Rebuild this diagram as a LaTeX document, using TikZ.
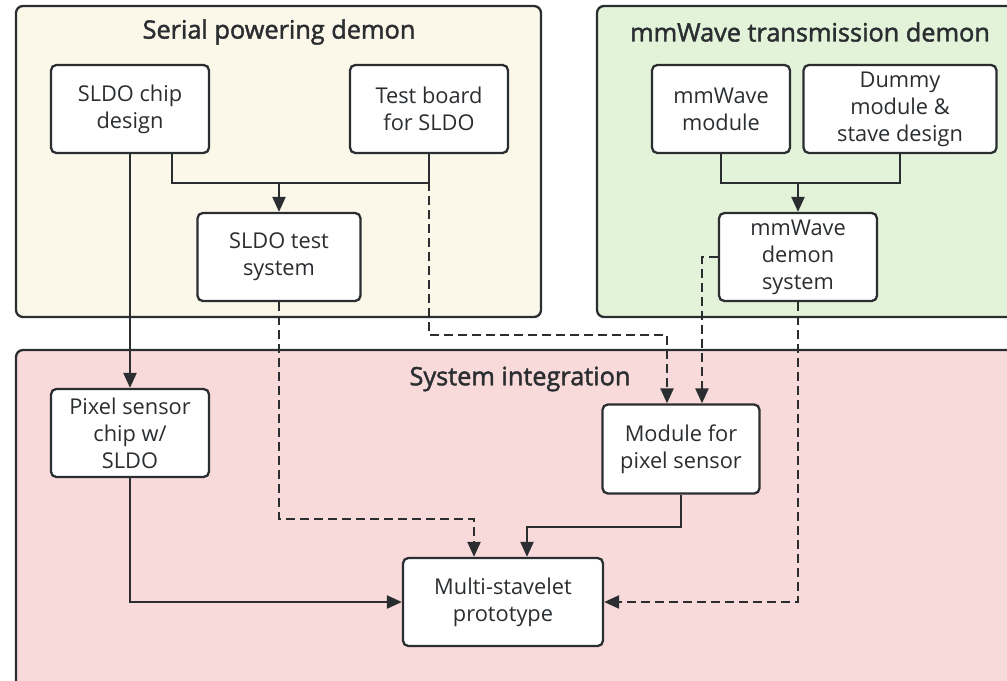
\documentclass[tikz,border=0pt]{standalone}
\usepackage{fontspec}
\setmainfont{Open Sans}
\newfontfamily\titlefont[FakeBold=1.8]{Open Sans}
\usetikzlibrary{positioning,arrows.meta,calc}
\definecolor{linec}{HTML}{2B2E31}
\definecolor{serialbg}{HTML}{FBF7E9}
\definecolor{wavebg}{HTML}{E3F3DA}
\definecolor{integbg}{HTML}{F8DADA}

\begin{document}
\begin{tikzpicture}[x=0.02cm,y=-0.02cm,
    group/.style={draw=linec, line width=1.3pt, rounded corners=4pt},
    box/.style={draw=linec, line width=1.3pt, rounded corners=3pt, fill=white, align=center,
        inner sep=0pt, minimum height=1.76cm, text=linec, font=\fontsize{12.4}{15.4}\selectfont},
    title/.style={text=linec, font=\titlefont\fontsize{14.4}{16}\selectfont},
    plain/.style={draw=linec, line width=1.3pt},
    link/.style={plain, -{Triangle[length=0.3cm,width=0.26cm]}},
    dashlink/.style={link, dash pattern=on 0.18cm off 0.1cm}]
\useasboundingbox (0,0) rectangle (1007,680);

% group frames
\draw[group, fill=serialbg] (16,6) rectangle (541,317);
\draw[group, fill=wavebg] (597,6) rectangle (1014,317);
\draw[group, fill=integbg] (16,350) rectangle (1014,690);
\node[title] (serialt) at (279,32) {Serial powering demon};
\node[title] (wavet) at (810,32) {mmWave transmission demon};
\node[title] (integt) at (520,379) {System integration};

% boxes
\node[box, minimum width=3.16cm] (sldochip) at (130,109) {SLDO chip\\design};
\node[box, minimum width=3.16cm] (testboard) at (429,109) {Test board\\for SLDO};
\node[box, minimum width=3.26cm] (sldotest) at (279,257) {SLDO test\\system};
\node[box, minimum width=2.76cm] (mmmodule) at (721,109) {mmWave\\module};
\node[box, minimum width=3.86cm] (dummy) at (900,109) {Dummy\\module \&\\stave design};
\node[box, minimum width=3.16cm] (mmdemon) at (798,257) {mmWave\\demon\\system};
\node[box, minimum width=3.16cm] (pixel) at (130,433) {Pixel sensor\\chip w/\\SLDO};
\node[box, minimum width=3.14cm, minimum height=1.78cm] (modpix) at (681,449) {Module for\\pixel sensor};
\node[box, minimum width=4.0cm] (multi) at (503,602) {Multi-stavelet\\prototype};

% joins
\coordinate (join1) at (sldotest.north |- 0,183);
\coordinate (join2) at (mmdemon.north |- 0,183);

% connectors
\draw[plain] ([xshift=0.84cm]sldochip.south) |- (testboard.south |- join1) -- (testboard.south);
\draw[link] (join1) -- (sldotest.north);
\draw[link] (sldochip) -- (pixel);
\draw[dashlink] (testboard.south) -- ++(0,181) -| ([xshift=-0.28cm]modpix.north);
\draw[dashlink] (sldotest.south) -- ++(0,217) -| ([xshift=-0.58cm]multi.north);
\draw[plain] (mmmodule.south) |- (dummy.south |- join2) -- (dummy.south);
\draw[link] (join2) -- (mmdemon.north);
\draw[dashlink] (mmdemon.west) -| ([xshift=0.42cm]modpix.north);
\draw[dashlink] (mmdemon.south) |- (multi.east);
\draw[link] (modpix.south) -- ++(0,32) -| ([xshift=0.48cm]multi.north);
\draw[link] (pixel.south) |- (multi.west);
\end{tikzpicture}
\end{document}
